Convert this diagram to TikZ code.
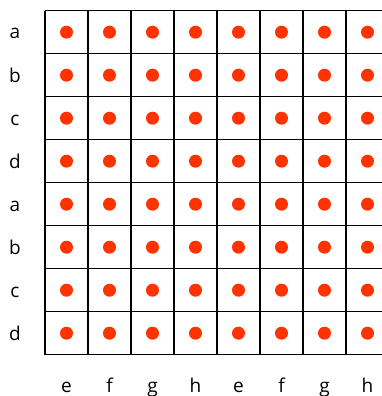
\documentclass[tikz,border=0pt]{standalone}
\usepackage{fontspec}
\setmainfont{Open Sans}
\begin{document}
\begin{tikzpicture}[x=1pt,y=-1pt,
  dot/.style={circle,fill=dotred,inner sep=0pt,minimum size=13pt},
  lbl/.style={font=\fontsize{19}{19}\selectfont,inner sep=0pt,anchor=base}]
\definecolor{dotred}{HTML}{FF3300}
\useasboundingbox (0,0) rectangle (382,396);
\foreach \i in {0,...,8} {
  \draw[line width=1.3pt] (45+43*\i,10.7) -- (45+43*\i,355);
  \draw[line width=1.3pt] (45,10.7+43*\i) -- (389,10.7+43*\i);
}
\foreach \r in {0,...,7} {
  \foreach \c in {0,...,7} {
    \node[dot] (d\r\c) at (66.5+43*\c,32.2+43*\r) {};
  }
}
\foreach \t [count=\k from 0] in {a,b,c,d,a,b,c,d} {
  \node[lbl] (r\k) at (15,39+43*\k) {\t};
}
\foreach \t [count=\k from 0] in {e,f,g,h,e,f,g,h} {
  \node[lbl] (c\k) at (66.5+43*\k,392) {\t};
}
\end{tikzpicture}
\end{document}
